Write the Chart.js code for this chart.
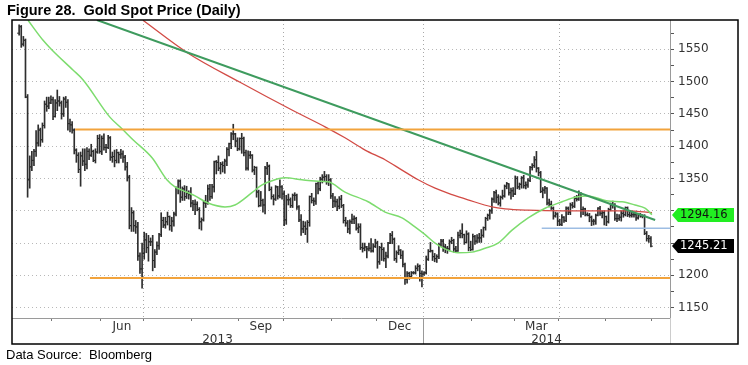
<!DOCTYPE html>
<html><head><meta charset="utf-8">
<script src="https://cdn.jsdelivr.net/npm/chart.js@4.4.1/dist/chart.umd.min.js"></script>
<style>
html,body{margin:0;padding:0;background:#fff;}
#wrap{position:relative;width:748px;height:365px;overflow:hidden;background:#fff;}
#c{position:absolute;left:0;top:0;}
#title{position:absolute;left:7px;top:3px;font:bold 14.5px "Liberation Sans",Arial,sans-serif;line-height:1;color:#000;white-space:pre;}
#src{position:absolute;left:6px;top:348px;font:13px "Liberation Sans",Arial,sans-serif;line-height:1;color:#000;white-space:pre;}
</style></head><body>
<div id="wrap"><canvas id="c" width="748" height="365"></canvas>
<div id="title">Figure 28.  Gold Spot Price (Daily)</div>
<div id="src">Data Source:  Bloomberg</div></div>
<script>
// trading-day index: 0 = 1 Apr 2013; first bar = 9 Apr 2013, last bar = 30 May 2014
const startIndex = 6;
const openP = [1575,1585,1558,1564,1476,1348,1368,1378,1392,1405,1425,1410,1432,1465,1462,1467,
1472,1446,1467,1470,1467,1450,1473,1468,1435,1433,1425,1394,1386,1364,1385,1377,1372,1392,1386,1392,1378,1391,1412,
1392,1412,1398,1398,1413,1383,1384,1378,1390,1387,1388,1383,1368,1352,1277,1297,1277,1275,1230,1210,
1234,1255,1243,1252,1252,1223,1236,1246,1263,1285,1278,1283,1291,1277,1284,1295,1335,1346,1321,1334,1322,1327,1325,
1312,1310,1310,1302,1283,1286,1312,1312,1334,1322,1337,1376,1375,1366,1372,1370,1377,1395,1404,1419,1419,1408,
1396,1412,1412,1390,1366,1386,1386,1363,1367,1329,1308,1316,1309,1366,1369,1333,1322,1318,1337,1323,1337,
1326,1286,1317,1317,1308,1324,1324,1306,1286,1272,1276,1272,1282,1322,1316,1315,1342,1334,1349,1352,1353,1345,1348,
1323,1315,1314,1307,1318,1308,1285,1281,1272,1283,1287,1288,1273,1275,1243,1242,1244,1241,1242,1238,1245,
1250,1221,1243,1240,1226,1230,1250,1262,1256,1226,1235,1239,1231,1217,1194,1203,1198,1204,1204,1211,1214,1203,
1202,1204,1225,1237,1238,1229,1226,1229,1247,1253,1244,1242,1241,1252,1254,1241,1238,1262,1265,1263,1251,1264,1243,
1240,1260,1253,1258,1258,1262,1274,1288,1293,1300,1318,1328,1321,1312,1321,1323,1338,1342,1328,1331,
1326,1350,1337,1341,1351,1339,1340,1347,1367,1370,1379,1366,1359,1330,1332,1335,1312,1310,1304,1292,1295,
1284,1279,1290,1285,1304,1298,1309,1307,1319,1318,1327,1302,1303,1294,1293,1290,1284,1284,1293,1304,1296,1297,
1291,1283,1302,1309,1309,1288,1288,1290,1296,1294,1305,1294,1293,1294,1294,1289,1294,1292,1292,1265,1257,1257];
const highP = [1588,1587,1570,1566,1480,1385,1392,1395,1424,1433,1428,1436,1470,1476,1476,1478,
1476,1472,1487,1477,1470,1476,1477,1472,1442,1438,1427,1396,1390,1391,1396,1396,1398,1396,1403,1394,1396,1417,1418,
1416,1419,1403,1417,1415,1391,1394,1395,1391,1395,1393,1386,1375,1355,1305,1300,1285,1282,1235,1250,
1267,1265,1262,1258,1262,1240,1252,1265,1297,1290,1290,1298,1292,1290,1298,1337,1348,1348,1337,1339,1338,1331,1336,
1316,1317,1314,1305,1289,1316,1324,1340,1341,1341,1377,1378,1385,1375,1376,1380,1398,1405,1421,1434,1420,1413,
1413,1420,1414,1394,1393,1392,1387,1369,1368,1332,1330,1318,1369,1375,1371,1337,1325,1339,1338,1348,1339,
1331,1324,1326,1320,1326,1328,1326,1308,1294,1284,1283,1285,1323,1327,1320,1343,1345,1352,1356,1361,1356,1356,1350,
1327,1322,1318,1322,1324,1310,1290,1285,1286,1295,1292,1290,1280,1280,1250,1250,1245,1250,1257,1249,1256,
1253,1245,1250,1243,1236,1251,1265,1268,1258,1238,1246,1240,1238,1219,1206,1205,1206,1206,1215,1218,1216,1207,
1206,1230,1240,1251,1239,1234,1232,1250,1256,1256,1248,1245,1255,1259,1256,1245,1267,1270,1280,1264,1269,1266,1253,
1264,1262,1263,1265,1271,1275,1290,1295,1302,1320,1330,1332,1325,1323,1332,1340,1344,1342,1335,1336,
1354,1353,1343,1353,1355,1345,1350,1369,1373,1384,1392,1367,1361,1336,1338,1336,1318,1315,1306,1298,1297,
1287,1294,1291,1306,1306,1312,1313,1322,1324,1331,1328,1306,1304,1297,1296,1292,1287,1295,1305,1307,1300,1300,
1292,1304,1312,1315,1311,1295,1294,1300,1301,1306,1306,1298,1298,1297,1296,1296,1296,1294,1294,1268,1262,1260];
const lowP = [1572,1553,1555,1475,1321,1335,1362,1370,1384,1400,1400,1406,1428,1454,1458,1466,
1441,1445,1455,1462,1442,1446,1460,1425,1422,1420,1388,1375,1359,1338,1370,1362,1365,1379,1384,1376,1374,1389,1389,
1387,1394,1390,1396,1378,1375,1368,1374,1374,1381,1375,1363,1346,1272,1268,1268,1265,1223,1203,1180,
1225,1235,1222,1246,1207,1212,1232,1240,1260,1274,1273,1278,1270,1268,1276,1292,1326,1313,1316,1316,1319,1318,1306,
1300,1294,1300,1272,1270,1284,1305,1310,1316,1319,1329,1357,1362,1357,1360,1358,1370,1385,1396,1410,1399,1393,
1394,1389,1385,1363,1363,1381,1360,1356,1321,1306,1307,1298,1295,1356,1331,1318,1309,1316,1318,1320,1318,
1277,1279,1309,1305,1305,1316,1302,1283,1262,1266,1263,1251,1276,1312,1308,1310,1326,1331,1343,1346,1341,1339,1319,
1305,1306,1300,1303,1305,1281,1276,1266,1264,1280,1280,1270,1266,1240,1236,1238,1227,1238,1236,1236,1243,
1211,1217,1223,1222,1212,1227,1249,1249,1223,1220,1232,1226,1213,1186,1188,1194,1197,1202,1202,1207,1191,1182,
1200,1202,1223,1236,1223,1221,1220,1226,1245,1237,1235,1234,1238,1249,1236,1236,1237,1258,1258,1248,1250,1238,1238,
1239,1248,1250,1251,1251,1259,1270,1285,1287,1296,1313,1312,1309,1307,1318,1321,1334,1324,1318,1322,
1325,1334,1333,1335,1335,1334,1336,1345,1363,1367,1360,1354,1328,1320,1327,1309,1306,1302,1287,1290,1277,
1277,1277,1282,1283,1294,1294,1304,1305,1315,1316,1290,1294,1292,1292,1283,1277,1278,1279,1292,1293,1289,1278,
1277,1281,1300,1304,1285,1283,1285,1284,1290,1292,1291,1290,1290,1290,1285,1287,1290,1289,1263,1253,1251,1244];
const closeP = [1585,1558,1564,1476,1348,1368,1378,1392,1405,1425,1410,1432,1465,1462,1467,1472,
1446,1467,1470,1467,1450,1473,1468,1435,1433,1425,1394,1386,1364,1385,1377,1372,1392,1386,1392,1378,1391,1412,1392,
1412,1398,1398,1413,1383,1384,1378,1390,1387,1388,1383,1368,1352,1277,1297,1277,1275,1230,1210,1234,
1255,1243,1252,1252,1223,1236,1246,1263,1285,1278,1283,1291,1277,1284,1295,1335,1346,1321,1334,1322,1327,1325,1312,
1310,1310,1302,1283,1286,1312,1312,1334,1322,1337,1376,1375,1366,1372,1370,1377,1395,1404,1419,1419,1408,1396,
1412,1412,1390,1366,1386,1386,1363,1367,1329,1308,1316,1309,1366,1369,1333,1322,1318,1337,1323,1337,1326,
1286,1317,1317,1308,1324,1324,1306,1286,1272,1276,1272,1282,1322,1316,1315,1342,1334,1349,1352,1353,1345,1348,1323,
1315,1314,1307,1318,1308,1285,1281,1272,1283,1287,1288,1273,1275,1243,1242,1244,1241,1242,1238,1245,1250,
1221,1243,1240,1226,1230,1250,1262,1256,1226,1235,1239,1231,1217,1194,1203,1198,1204,1204,1211,1214,1203,1202,
1204,1225,1237,1238,1229,1226,1229,1247,1253,1244,1242,1241,1252,1254,1241,1238,1262,1265,1263,1251,1264,1243,1240,
1260,1253,1258,1258,1262,1274,1288,1293,1300,1318,1328,1321,1312,1321,1323,1338,1342,1328,1331,1326,
1350,1337,1341,1351,1339,1340,1347,1367,1370,1379,1366,1359,1330,1332,1335,1312,1310,1304,1292,1295,1284,
1279,1290,1285,1304,1298,1309,1307,1319,1318,1327,1302,1303,1294,1293,1290,1284,1284,1293,1304,1296,1297,1291,
1283,1302,1309,1309,1288,1288,1290,1296,1294,1305,1294,1293,1294,1294,1289,1294,1292,1292,1265,1257,1257,1245.21];

// 50-day moving average (light green)
const ma50X = [10.2,17.3,21.5,31.4,36.1,48.8,54.5,59.7,68.7,75.7,79.5,82.8,89,95.1,103.1,107.8,115.8,120.6,126.7,131.4,139.4,145.6,151.7,159.7,170.6,178.6,186.6,192.7,197.5,202.2,206.9,213,219.6,225.8,231.9,238.5,246.1,254.1,262.1,268.2,274.3,283.8,290.4,296.5,301.2,304.5];
const ma50Y = [1595,1564,1549,1518,1503,1445,1427,1410,1382,1348,1337,1332,1323,1312,1306,1309,1328,1340,1348,1351,1348,1346,1345,1329,1314,1298,1289,1275,1263,1250,1241,1235,1236,1242,1250,1270,1289,1304,1314,1321,1323,1315,1314,1309,1304,1294];
// 200-day moving average (red)
const ma200X = [64.4,85.7,110.2,134.7,150.3,159.7,169.2,178.6,186.6,194.2,202.2,210.2,217.7,229,235.2,246.1,262.1,277.6,293.2,304.5];
const ma200Y = [1595,1544,1499,1456,1430,1413,1394,1379,1363,1348,1335,1325,1317,1306,1303,1301,1300,1300,1300,1297];
// down-trend line (dark green)
const trendX = [42.7,306];
const trendY = [1595.4,1285.8];
// horizontal levels
const levelNames = ['resistance','support','recentLow'];
const levelValues = [1426,1196,1273];
const levelStarts = [32.4,39.4,252.5];
const levelColors = ['#f2a33c','#f2a33c','#9dbde3'];
// last-value tags
const tagLabels = ['1294.16','1245.21'];
const tagValues = [1294.16,1245.21];

// axis categories
const monthBounds = [21.5,44.5,64.5,87.5,109.5,130.5,153.5,174.5,196.5,219.5,239.5,260.5,282.5,304.5];
const quarterBounds = [64.5,130.5,196.5,260.5];
const monthLabels = ['Jun','Sep','Dec','Mar'];
const monthSpans = [[44.5,64.5],[109.5,130.5],[174.5,196.5],[239.5,260.5]];
const yearLabels = ['2013','2014'];
const yearBoundary = 196.5;
const xMin = 2.64, xMax = 313.0;
const yMin = 1134, yMax = 1595.4;
const yTicks = [1150,1175,1200,1225,1250,1275,1300,1325,1350,1375,1400,1425,1450,1475,1500,1525,1550,1575];

const barColor = '#2e2e2e';
const pts = (xs, ys) => xs.map((x, i) => ({x: x, y: ys[i]}));
const hiddenByTag = v => tagValues.some(t => Math.abs(t - v) < 9);

const datasets = [
  {type:'bar', data: highP.map((h,i)=>({x:startIndex+i, y:[lowP[i], h]})), backgroundColor: barColor, barThickness: 1, order: 10},
  {type:'line', data: closeP.map((c,i)=>({x:startIndex+i, y:c})), showLine:false, pointStyle:'dash', pointRadius:2, pointBorderColor:barColor, pointBorderWidth:1, order: 9},
  {type:'line', data: openP.map((o,i)=>({x:startIndex+i, y:o})), showLine:false, pointStyle:'dash', pointRotation:180, pointRadius:2, pointBorderColor:barColor, pointBorderWidth:1, order: 9},
  {type:'line', data: pts(ma200X, ma200Y), borderColor:'#d24b45', borderWidth:1.3, pointRadius:0, cubicInterpolationMode:'monotone', order: 4},
  {type:'line', data: pts(ma50X, ma50Y), borderColor:'#7ddc6e', borderWidth:1.5, pointRadius:0, cubicInterpolationMode:'monotone', order: 3},
  {type:'line', data: pts(trendX, trendY), borderColor:'#3e9b5e', borderWidth:2, pointRadius:0, order: 2}
];
levelValues.forEach((v, i) => {
  datasets.push({type:'line', data:[{x:levelStarts[i], y:v},{x:xMax, y:v}], borderColor:levelColors[i], borderWidth: i<2 ? 2 : 1.3, pointRadius:0, order: 1});
});

const quarterGridPlugin = {
  id:'quarterGrid',
  beforeDatasetsDraw(chart){
    const ctx = chart.ctx, a = chart.chartArea, xs = chart.scales.x;
    ctx.save();
    ctx.strokeStyle = '#a8a8a8'; ctx.lineWidth = 1; ctx.setLineDash([1,3]);
    quarterBounds.forEach(q => {
      const px = Math.round(xs.getPixelForValue(q)) + 0.5;
      ctx.beginPath(); ctx.moveTo(px, a.top); ctx.lineTo(px, a.bottom); ctx.stroke();
    });
    ctx.restore();
  }
};

const framePlugin = {
  id:'frame',
  afterDraw(chart){
    const ctx = chart.ctx, a = chart.chartArea, xs = chart.scales.x;
    ctx.save();
    ctx.strokeStyle = '#999'; ctx.lineWidth = 1;
    const xb = Math.round(xs.getPixelForValue(yearBoundary)) + 0.5;
    ctx.beginPath(); ctx.moveTo(xb, a.bottom); ctx.lineTo(xb, 344); ctx.stroke();
    ctx.strokeStyle = '#ccc';
    ctx.beginPath(); ctx.moveTo(a.right + 0.5, a.bottom); ctx.lineTo(a.right + 0.5, 344); ctx.stroke();
    ctx.strokeStyle = '#000'; ctx.lineWidth = 1.5;
    ctx.strokeRect(12, 20, 726, 324);
    // value tags
    const ys = chart.scales.y;
    const fills = ['#22ee22','#000'];
    const texts = ['#111','#fff'];
    tagValues.forEach((v, i) => {
      const py = Math.round(ys.getPixelForValue(v));
      const x0 = a.right + 2;
      ctx.fillStyle = fills[i];
      ctx.beginPath();
      ctx.moveTo(x0, py);
      ctx.lineTo(x0 + 6, py - 7);
      ctx.lineTo(x0 + 62, py - 7);
      ctx.lineTo(x0 + 62, py + 7);
      ctx.lineTo(x0 + 6, py + 7);
      ctx.closePath(); ctx.fill();
      ctx.fillStyle = texts[i];
      ctx.font = '11.5px "DejaVu Sans"';
      ctx.textAlign = 'left'; ctx.textBaseline = 'middle';
      ctx.fillText(tagLabels[i], x0 + 8, py + 0.5);
    });
    ctx.restore();
  }
};

new Chart(document.getElementById('c'), {
  data: {datasets: datasets},
  options: {
    responsive:false, animation:false, devicePixelRatio:1,
    layout:{padding:{left:12, top:20, right:10, bottom:21}},
    plugins:{legend:{display:false}, tooltip:{enabled:false}},
    scales:{
      x:{type:'linear', position:'bottom', weight:0, min:xMin, max:xMax, offset:false,
        afterBuildTicks:s=>{s.ticks = monthBounds.map(v=>({value:v}));},
        ticks:{display:false},
        grid:{offset:false, drawOnChartArea:false, color:'#777', tickColor:'#777', tickLength:3, drawTicks:true},
        border:{display:true, color:'#9a9a9a', width:1},
        afterFit:s=>{s.height = 3;}
      },
      xm:{type:'linear', position:'bottom', weight:1, min:xMin, max:xMax, offset:false,
        afterBuildTicks:s=>{s.ticks = monthSpans.map(sp=>({value:(sp[0]+sp[1])/2}));},
        ticks:{callback:(v,i)=>monthLabels[i], font:{family:'DejaVu Sans', size:12, lineHeight:0.9}, color:'#333', padding:0, maxRotation:0, autoSkip:false},
        grid:{display:false, drawTicks:false, offset:false}, border:{display:false},
        afterFit:s=>{s.height = 12;}
      },
      xy:{type:'linear', position:'bottom', weight:2, min:xMin, max:xMax, offset:false,
        afterBuildTicks:s=>{s.ticks = [ (xMin+yearBoundary)/2, (yearBoundary+xMax)/2 ].map(v=>({value:v}));},
        ticks:{callback:(v,i)=>yearLabels[i], font:{family:'DejaVu Sans', size:12, lineHeight:1.1}, color:'#333', padding:0, maxRotation:0, autoSkip:false},
        grid:{display:false, drawTicks:false, offset:false}, border:{display:false},
        afterFit:s=>{s.height = 11;}
      },
      y:{type:'linear', position:'right', min:yMin, max:yMax,
        afterBuildTicks:s=>{s.ticks = yTicks.map(v=>({value:v}));},
        ticks:{callback:v=> (v % 50 === 0 && !hiddenByTag(v)) ? String(v) : '', font:{family:'DejaVu Sans', size:12}, color:'#333', padding:4, autoSkip:false},
        grid:{color:c=> (c.tick && c.tick.value % 50 === 0) ? '#b8b8b8' : 'rgba(0,0,0,0)', tickColor:'#555', tickLength:4},
        border:{display:true, color:'#9a9a9a', width:1, dash:[1,3]},
        afterFit:s=>{s.width = 68;}
      }
    }
  },
  plugins:[quarterGridPlugin, framePlugin]
});
</script>
</body></html>
